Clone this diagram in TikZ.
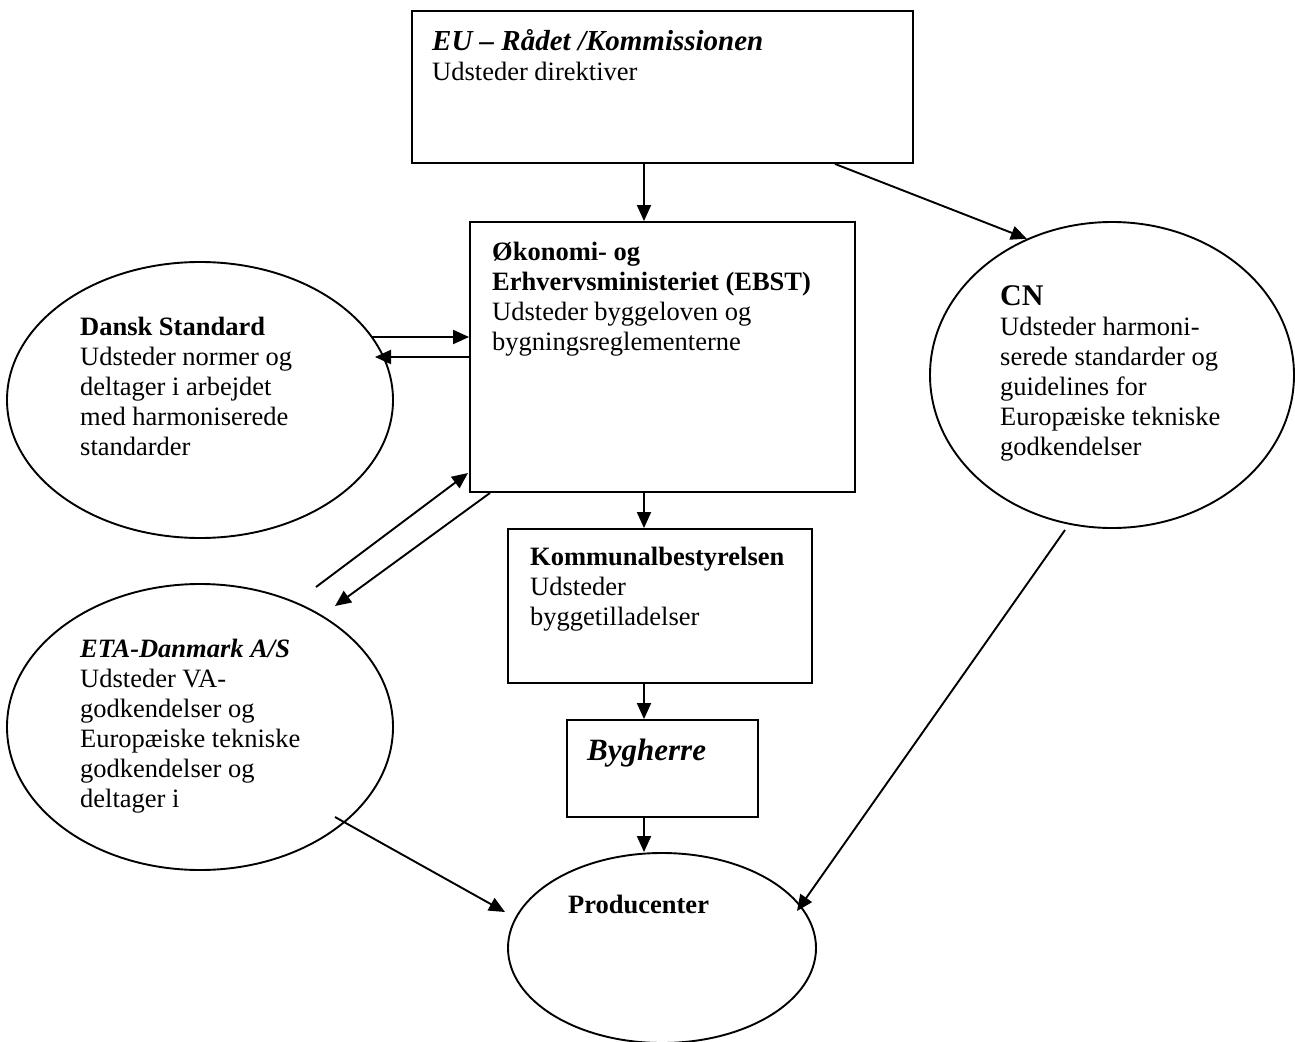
\documentclass[tikz,border=0pt]{standalone}
\usepackage{fontspec}
\setmainfont{Liberation Serif}
\usetikzlibrary{arrows.meta,shapes.geometric,calc}
\begin{document}
\begin{tikzpicture}[x=1pt,y=-1pt,
  box/.style={draw,line width=1.9pt,rectangle,inner sep=0pt},
  oval/.style={draw,line width=1.9pt,ellipse,inner sep=0pt},
  arr/.style={line width=1.9pt,-{Triangle[length=16pt,width=14pt]}},
  txt/.style={inner sep=0pt,anchor=north west,align=left,font=\fontsize{26.5}{30}\selectfont},
]
\useasboundingbox (0,0) rectangle (1295,1041);
\fill[white] (0,0) rectangle (1295,1041);
% shapes
\node[box,minimum width=501pt,minimum height=152pt] (eu) at (662.5,87) {};
\node[box,minimum width=385pt,minimum height=270pt] (ebst) at (662.5,357) {};
\node[box,minimum width=304pt,minimum height=154pt] (komm) at (660,606) {};
\node[box,minimum width=191pt,minimum height=97pt] (byg) at (662.5,768.5) {};
\node[oval,minimum width=386pt,minimum height=276pt] (dansk) at (200,400) {};
\node[oval,minimum width=364pt,minimum height=306pt] (cn) at (1112,375) {};
\node[oval,minimum width=386pt,minimum height=286pt] (eta) at (200,727) {};
\node[oval,minimum width=308pt,minimum height=190pt] (prod) at (662,948) {};
% texts
\node[txt] (eutxt) at (432,26) {\rule{0pt}{24pt}{\fontsize{29}{30}\selectfont\bfseries\itshape EU – Rådet /Kommissionen}\\Udsteder direktiver};
\node[txt] (ebsttxt) at (492,236) {\rule{0pt}{24pt}\textbf{Økonomi- og}\\\textbf{Erhvervsministeriet (EBST)}\\Udsteder byggeloven og\\bygningsreglementerne};
\node[txt] (dansktxt) at (80,311) {\rule{0pt}{24pt}\textbf{Dansk Standard}\\Udsteder normer og\\deltager i arbejdet\\med harmoniserede\\standarder};
\node[txt] (cntxt) at (1000,281) {\rule{0pt}{24pt}{\fontsize{30}{30}\selectfont\bfseries CN}\\Udsteder harmoni-\\serede standarder og\\guidelines for\\Europæiske tekniske\\godkendelser};
\node[txt] (etatxt) at (80,633) {\rule{0pt}{24pt}\textbf{\textit{ETA-Danmark A/S}}\\Udsteder VA-\\godkendelser og\\Europæiske tekniske\\godkendelser og\\deltager i};
\node[txt] (kommtxt) at (530,541) {\rule{0pt}{24pt}\textbf{Kommunalbestyrelsen}\\Udsteder\\byggetilladelser};
\node[txt,font=\fontsize{31}{30}\selectfont] (bygtxt) at (587,736) {\rule{0pt}{24pt}\textbf{\textit{Bygherre}}};
\node[txt] (prodtxt) at (568,889) {\rule{0pt}{24pt}\textbf{Producenter}};
% coordinates for free ends
\coordinate (spine) at (644,0);
\coordinate (eucn) at (835,0);
\coordinate (dsout) at (372,337);
\coordinate (dsin) at (375,357);
\coordinate (etaup) at (316,587);
\coordinate (ebstin) at (468,473);
\coordinate (ebstout) at (490,0);
\coordinate (etain) at (335,606);
\coordinate (etaout) at (335,817);
\coordinate (prodinl) at (505,912);
\coordinate (cnout) at (1065,530);
\coordinate (prodinr) at (797,911);
% connectors
\draw[arr] (eu.south -| spine) -- (ebst.north -| spine);
\draw[arr] (eu.south -| eucn) -- (cn.122.8);
\draw[arr] (dsout) -- (dsout -| ebst.west);
\draw[arr] (dsin -| ebst.west) -- (dsin);
\draw[arr] (etaup) -- (ebstin);
\draw[arr] (ebst.south -| ebstout) -- (etain);
\draw[arr] (ebst.south -| spine) -- (komm.north -| spine);
\draw[arr] (komm.south -| spine) -- (byg.north -| spine);
\draw[arr] (byg.south -| spine) -- (prod.north -| spine);
\draw[arr] (etaout) -- (prodinl);
\draw[arr] (cnout) -- (prodinr);
\end{tikzpicture}
\end{document}
